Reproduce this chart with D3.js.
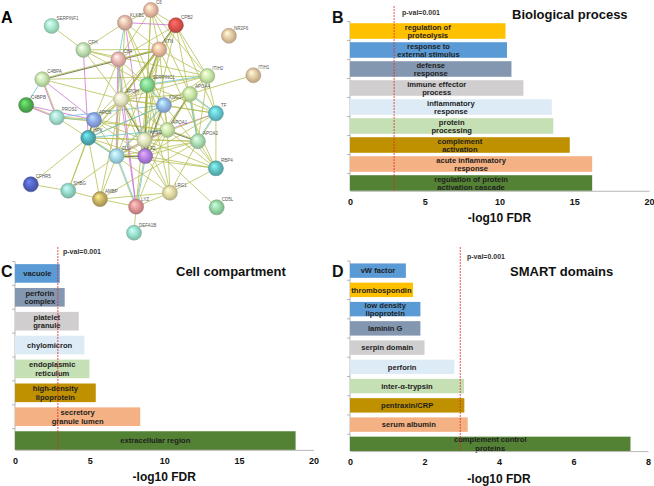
<!DOCTYPE html>
<html>
<head>
<meta charset="utf-8">
<script src="https://cdn.jsdelivr.net/npm/d3@7"></script>
<style>
  body { margin: 0; background: #fff; }
  svg { font-family: Arial, "Liberation Sans", sans-serif; }
</style>
</head>
<body>
<script>
// ---- data ----

// B: Biological process (-log10 FDR)
const bpTerms = ["regulation of\nproteolysis", "response to\nexternal stimulus", "defense\nresponse",
  "immune effector\nprocess", "inflammatory\nresponse", "protein\nprocessing", "complement\nactivation",
  "acute inflammatory\nresponse", "regulation of protein\nactivation cascade"];
const bpFdr = [10.4, 10.5, 10.8, 11.6, 13.5, 13.6, 14.7, 16.2, 16.2];

// C: Cell compartment
const ccTerms = ["vacuole", "perforin\ncomplex", "platelet\ngranule", "chylomicron", "endoplasmic\nreticulum",
  "high-density\nlipoprotein", "secretory\ngranule lumen", "extracellular region"];
const ccFdr = [3.0, 3.33, 4.27, 4.65, 4.99, 5.41, 8.39, 18.8];

// D: SMART domains
const smTerms = ["vW factor", "thrombospondin", "low density\nlipoprotein", "laminin G", "serpin domain",
  "perforin", "inter-α-trypsin", "pentraxin/CRP", "serum albumin", "complement control\nproteins"];
const smFdr = [1.5, 1.69, 1.89, 1.89, 2.0, 2.8, 3.06, 3.07, 3.16, 7.53];

// where the p-val=0.001 line is drawn in B, C, D
const pvalCut = [2.95, 2.87, 2.96];
const xTicksB = [0, 5, 10, 15, 20];
const xTicksC = [0, 5, 10, 15, 20];
const xTicksD = [0, 2, 4, 6, 8];

// A: STRING network, layout units 0-100
const netNodes = ["SERPINF1", "KLKB1", "C6", "CPB2", "NR2F6", "CFH", "C8A", "VTN", "ITIH2", "ITIH1",
  "C4BPA", "SERPINC1", "APOA4", "C4BPB", "APOH", "KNG1", "PROS1", "APCS", "TF", "HPX",
  "APOA1", "AHSG", "APOA2", "CLU", "F2", "RBP4", "CFHR5", "SHBG", "AMBP", "LYZ",
  "LRG1", "CD5L", "DEFA1B"];
const netX = [16.0, 44.2, 54.2, 63.8, 84.2, 28.2, 41.7, 57.4, 75.9, 93.6,
  12.4, 52.8, 69.2, 6.2, 42.7, 59.2, 18.0, 32.3, 79.2, 30.1,
  60.5, 51.7, 72.3, 41.0, 52.0, 79.2, 8.0, 22.4, 34.6, 48.5,
  61.5, 79.5, 47.7];
const netY = [8.9, 7.5, 2.1, 8.6, 13.1, 19.1, 23.1, 18.9, 30.2, 29.9,
  31.6, 34.0, 37.9, 42.6, 40.1, 42.6, 47.8, 48.9, 46.1, 56.5,
  53.2, 57.4, 58.0, 64.3, 64.3, 69.5, 76.3, 79.0, 82.6, 85.8,
  79.9, 86.1, 96.9];
// edges "a-b:types" (t text mining, k coexpression, c database, m experiments)
const netEdges = [
  "SERPINF1-CFH:t", "CFH-C8A:t", "CFH-VTN:t", "CFH-KLKB1:t", "CFH-SERPINC1:t", "CFH-APOH:t", "CFH-HPX:m", "CFH-ITIH2:t",
  "C4BPA-C4BPB:c", "C4BPA-PROS1:tm", "C4BPA-APCS:m", "C4BPA-VTN:tk", "C4BPA-ITIH2:t", "C4BPA-APOH:t",
  "C4BPB-PROS1:tm", "C4BPB-APCS:m",
  "PROS1-APCS:tc", "PROS1-APOA1:t", "PROS1-HPX:t", "PROS1-KNG1:c",
  "CFHR5-HPX:t", "CFHR5-SHBG:t",
  "SHBG-HPX:t", "SHBG-AMBP:t", "SHBG-CLU:t", "SHBG-APCS:t",
  "AMBP-LYZ:t", "AMBP-HPX:t", "AMBP-APOH:t", "AMBP-LRG1:t", "AMBP-CLU:t", "AMBP-APOA2:t",
  "LYZ-DEFA1B:t", "LYZ-LRG1:t", "LYZ-F2:tc", "LYZ-CLU:tc", "LYZ-APOH:m", "LYZ-SERPINC1:t", "LYZ-APOA1:t", "LYZ-C8A:m",
  "LRG1-RBP4:t", "LRG1-APOA2:t", "LRG1-APOA1:t", "LRG1-AHSG:t", "LRG1-F2:t", "LRG1-SERPINC1:t", "LRG1-HPX:t",
  "RBP4-TF:t", "RBP4-APOA2:t", "RBP4-APOA1:t", "RBP4-AHSG:t", "RBP4-F2:t", "RBP4-CLU:t", "RBP4-KNG1:t",
  "TF-APOA4:tc", "TF-ITIH2:t", "TF-APOA1:m", "TF-APOA2:tc", "TF-KNG1:t", "TF-SERPINC1:t", "TF-APOH:t", "TF-F2:t", "TF-AHSG:t",
  "ITIH1-APOA4:t",
  "ITIH2-CPB2:t", "ITIH2-VTN:t", "ITIH2-SERPINC1:tc", "ITIH2-APOA4:t", "ITIH2-APOA2:t", "ITIH2-KNG1:t", "ITIH2-C6:t", "ITIH2-APOH:t",
  "C6-KLKB1:t", "C6-VTN:t", "C6-C8A:t", "C6-SERPINC1:t", "C6-APOA4:t", "C6-AHSG:t", "C6-CPB2:t",
  "KLKB1-CPB2:m", "KLKB1-C8A:c", "KLKB1-VTN:t", "KLKB1-SERPINC1:t", "KLKB1-F2:m", "KLKB1-KNG1:t", "KLKB1-APOH:t",
  "CPB2-VTN:t", "CPB2-C8A:t", "CPB2-SERPINC1:t", "CPB2-F2:t", "CPB2-APOA2:t", "CPB2-TF:t", "CPB2-APOH:tk",
  "C8A-VTN:t", "C8A-APOH:c", "C8A-SERPINC1:t", "C8A-F2:t", "C8A-CLU:tm", "C8A-APCS:t",
  "VTN-SERPINC1:tk", "VTN-APOH:t", "VTN-F2:t", "VTN-APOA1:t", "VTN-CLU:t", "VTN-HPX:t", "VTN-APCS:t", "VTN-AHSG:t", "VTN-RBP4:t",
  "SERPINC1-APOH:t", "SERPINC1-KNG1:tc", "SERPINC1-F2:tk", "SERPINC1-APOA1:t", "SERPINC1-AHSG:t", "SERPINC1-APCS:t", "SERPINC1-HPX:t",
  "APOA4-APOA1:tk", "APOA4-APOA2:tc", "APOA4-APOH:t", "APOA4-KNG1:t", "APOA4-HPX:t", "APOA4-F2:t",
  "APOH-KNG1:t", "APOH-APCS:t", "APOH-HPX:t", "APOH-AHSG:tk", "APOH-F2:t", "APOH-CLU:t", "APOH-APOA1:t",
  "KNG1-F2:tk", "KNG1-APOA1:t", "KNG1-AHSG:t", "KNG1-CLU:tc", "KNG1-HPX:c",
  "APCS-HPX:tk", "APCS-CLU:t", "APCS-F2:t", "APCS-APOA1:t", "APCS-AHSG:t",
  "HPX-CLU:tc", "HPX-AHSG:t", "HPX-F2:t", "HPX-APOA2:t", "HPX-APOA1:c",
  "APOA1-APOA2:tk", "APOA1-AHSG:t", "APOA1-F2:t", "APOA1-CLU:tm",
  "AHSG-F2:tk", "AHSG-CLU:t", "AHSG-APOA2:t",
  "APOA2-F2:t", "APOA2-CLU:t", "CLU-F2:tk", "CD5L-AHSG:t"
];

// ---- styles ----
const bpColors = ["#ffc000", "#5b9bd5", "#8497b0", "#d0cece", "#ddebf7", "#c5e0b4", "#bf9000", "#f4b183", "#548235"];
const ccColors = ["#5b9bd5", "#8497b0", "#d0cece", "#ddebf7", "#c5e0b4", "#bf9000", "#f4b183", "#548235"];
const smColors = ["#5b9bd5", "#ffc000", "#5b9bd5", "#8497b0", "#d0cece", "#ddebf7", "#c5e0b4", "#bf9000", "#f4b183", "#548235"];
const nodeColors = ["#a6e8cc", "#e6bcaa", "#ebbca4", "#e0524e", "#e2c9a2", "#bfe3b3", "#eab4b0", "#ebbc9e", "#c9e9a9", "#e0c7a0",
  "#c6e6ae", "#82d98f", "#c8e8a6", "#52b452", "#e8e8c2", "#93b9e8", "#a4e2d2", "#8ca6e8", "#66cad4", "#52b2ba",
  "#c9e8a8", "#e2e8bb", "#abe0b2", "#a3d9ea", "#b07fe2", "#62c1c3", "#5363c2", "#94dac9", "#c9b263", "#e29494",
  "#e2daa2", "#96d9a6", "#98e2cc"];
const edgeColors = { t: "#b4bd4e", k: "#4f5a2c", c: "#5fc3d8", m: "#cc6ecc" };

(function(d3) {
  "use strict";

  const width = 654, height = 486;
  const svg = d3.select("body").append("svg")
    .attr("width", width)
    .attr("height", height);
  const defs = svg.append("defs");

  /***** Panel A: network *****/
  const nx = d3.scaleLinear().domain([0, 100]).range([10, 270]);
  const ny = d3.scaleLinear().domain([0, 100]).range([5, 240]);
  const pos = new Map(netNodes.map((n, i) => [n, [nx(netX[i]), ny(netY[i])]]));

  const net = svg.append("g");
  const edgeG = net.append("g").attr("stroke-width", 0.9).attr("stroke-opacity", 0.85);
  netEdges.forEach(e => {
    const [pair, types] = e.split(":");
    const [a, b] = pair.split("-");
    const p = pos.get(a), q = pos.get(b);
    const dx = q[0] - p[0], dy = q[1] - p[1];
    const len = Math.hypot(dx, dy);
    const ox = -dy / len, oy = dx / len;
    types.split("").forEach((t, k) => {
      const off = (k - (types.length - 1) / 2) * 1.0;
      edgeG.append("line")
        .attr("x1", p[0] + ox * off).attr("y1", p[1] + oy * off)
        .attr("x2", q[0] + ox * off).attr("y2", q[1] + oy * off)
        .attr("stroke", edgeColors[t]);
    });
  });

  netNodes.forEach((n, i) => {
    const c = nodeColors[i];
    const grad = defs.append("radialGradient")
      .attr("id", "g" + i).attr("cx", "50%").attr("cy", "50%").attr("r", "55%")
      .attr("fx", "35%").attr("fy", "30%");
    grad.append("stop").attr("offset", "0%").attr("stop-color", d3.color(c).brighter(0.9));
    grad.append("stop").attr("offset", "55%").attr("stop-color", c);
    grad.append("stop").attr("offset", "100%").attr("stop-color", d3.color(c).darker(0.7));
  });

  const nodeG = net.append("g").selectAll("g")
    .data(netNodes)
    .join("g")
    .attr("transform", d => "translate(" + pos.get(d)[0] + "," + pos.get(d)[1] + ")");
  nodeG.append("circle")
    .attr("r", 7.5)
    .attr("fill", (d, i) => "url(#g" + i + ")")
    .attr("stroke", (d, i) => d3.color(nodeColors[i]).darker(0.8))
    .attr("stroke-width", 0.5);
  nodeG.append("text")
    .attr("x", 5).attr("y", -6)
    .attr("font-size", 4.5)
    .attr("fill", "#555")
    .text(d => d);

  svg.append("text").attr("x", 1).attr("y", 23)
    .attr("font-size", 16).attr("font-weight", "bold").text("A");

  /***** Bar panels *****/
  function barPanel(cfg) {
    const x = d3.scaleLinear().domain(cfg.domain).range([cfg.left, cfg.right]);
    const y = d3.scaleBand().domain(cfg.terms).range([cfg.top, cfg.bottom])
      .paddingInner(cfg.pad).paddingOuter(cfg.pad / 2);
    const color = d3.scaleOrdinal().domain(cfg.terms).range(cfg.colors);
    const g = svg.append("g");
    const last = cfg.terms[cfg.terms.length - 1];
    const axisY = y(last) + y.bandwidth();

    // y axis line with ticks between bars
    g.append("line")
      .attr("x1", x(0)).attr("x2", x(0))
      .attr("y1", cfg.top).attr("y2", axisY)
      .attr("stroke", "#a6a6a6").attr("stroke-width", 0.8);
    const gap = y.step() * y.paddingInner() / 2;
    g.selectAll(".ytick")
      .data(cfg.terms)
      .join("line")
      .attr("x1", x(0) - 3).attr("x2", x(0))
      .attr("y1", d => y(d) - gap)
      .attr("y2", d => y(d) - gap)
      .attr("stroke", "#a6a6a6").attr("stroke-width", 0.8);

    // bars
    g.selectAll("rect")
      .data(cfg.terms)
      .join("rect")
      .attr("x", x(0))
      .attr("y", d => y(d))
      .attr("width", (d, i) => x(cfg.values[i]) - x(0))
      .attr("height", y.bandwidth())
      .attr("fill", d => color(d));

    // bar labels
    const lh = 8.4;
    const lab = g.selectAll(".lab")
      .data(cfg.terms)
      .join("text")
      .attr("class", "lab")
      .attr("font-size", 7.6)
      .attr("font-weight", "bold")
      .attr("fill", "#1e1e1e")
      .attr("text-anchor", "middle")
      .attr("x", (d, i) => (x(0) + x(cfg.values[i])) / 2)
      .attr("y", d => y(d) + y.bandwidth() / 2);
    lab.each(function(d) {
      const lines = d.split("\n");
      d3.select(this).selectAll("tspan")
        .data(lines)
        .join("tspan")
        .attr("x", d3.select(this).attr("x"))
        .attr("dy", (t, k) => k === 0 ? (-(lines.length - 1) / 2 * lh + 2.7) : lh)
        .text(t => t);
    });

    // p-value line
    g.append("line")
      .attr("x1", x(cfg.pval)).attr("x2", x(cfg.pval))
      .attr("y1", cfg.pTop).attr("y2", axisY)
      .attr("stroke", "#e02a2a").attr("stroke-width", 0.8)
      .attr("stroke-dasharray", "2,1");
    g.append("text")
      .attr("x", cfg.pLabel[0]).attr("y", cfg.pLabel[1])
      .attr("font-size", 7).attr("font-weight", "bold").attr("fill", "#333")
      .text("p-val=0.001");

    // x axis
    const ax = g.append("g")
      .attr("transform", "translate(0," + axisY + ")")
      .call(d3.axisBottom(x).tickValues(cfg.ticks).tickSize(0).tickPadding(8));
    ax.select(".domain").attr("stroke", "#a6a6a6").attr("stroke-width", 0.8);
    ax.selectAll("text").attr("font-size", 9).attr("font-weight", "bold")
      .attr("fill", "#111").attr("font-family", "Arial, 'Liberation Sans', sans-serif");
    g.append("text")
      .attr("x", (cfg.left + cfg.right) / 2).attr("y", axisY + 31.5)
      .attr("text-anchor", "middle")
      .attr("font-size", 12).attr("font-weight", "bold").attr("fill", "#111")
      .text("-log10 FDR");

    // title and panel letter
    g.append("text")
      .attr("x", cfg.title[1]).attr("y", cfg.title[2])
      .attr("font-size", 13).attr("font-weight", "bold").attr("fill", "#111")
      .text(cfg.title[0]);
    g.append("text")
      .attr("x", cfg.letter[1]).attr("y", cfg.letter[2])
      .attr("font-size", 16).attr("font-weight", "bold").attr("fill", "#111")
      .text(cfg.letter[0]);
  }

  barPanel({
    terms: bpTerms, values: bpFdr, colors: bpColors, domain: [0, 20], ticks: xTicksB,
    left: 350, right: 649, top: 21.5, bottom: 192.5, pad: 0.18,
    pval: pvalCut[0], pTop: 6, pLabel: [402, 14.5],
    title: ["Biological process", 512, 19], letter: ["B", 332, 23]
  });

  barPanel({
    terms: ccTerms, values: ccFdr, colors: ccColors, domain: [0, 20], ticks: xTicksC,
    left: 15, right: 313.5, top: 261.5, bottom: 452.5, pad: 0.22,
    pval: pvalCut[1], pTop: 247, pLabel: [63, 253.5],
    title: ["Cell compartment", 176, 275.5], letter: ["C", 1, 277]
  });

  barPanel({
    terms: smTerms, values: smFdr, colors: smColors, domain: [0, 8], ticks: xTicksD,
    left: 350, right: 648, top: 261, bottom: 453.5, pad: 0.25,
    pval: pvalCut[2], pTop: 247, pLabel: [467, 258.5],
    title: ["SMART domains", 510, 275.5], letter: ["D", 332, 277]
  });
})(d3);
</script>
</body>
</html>
